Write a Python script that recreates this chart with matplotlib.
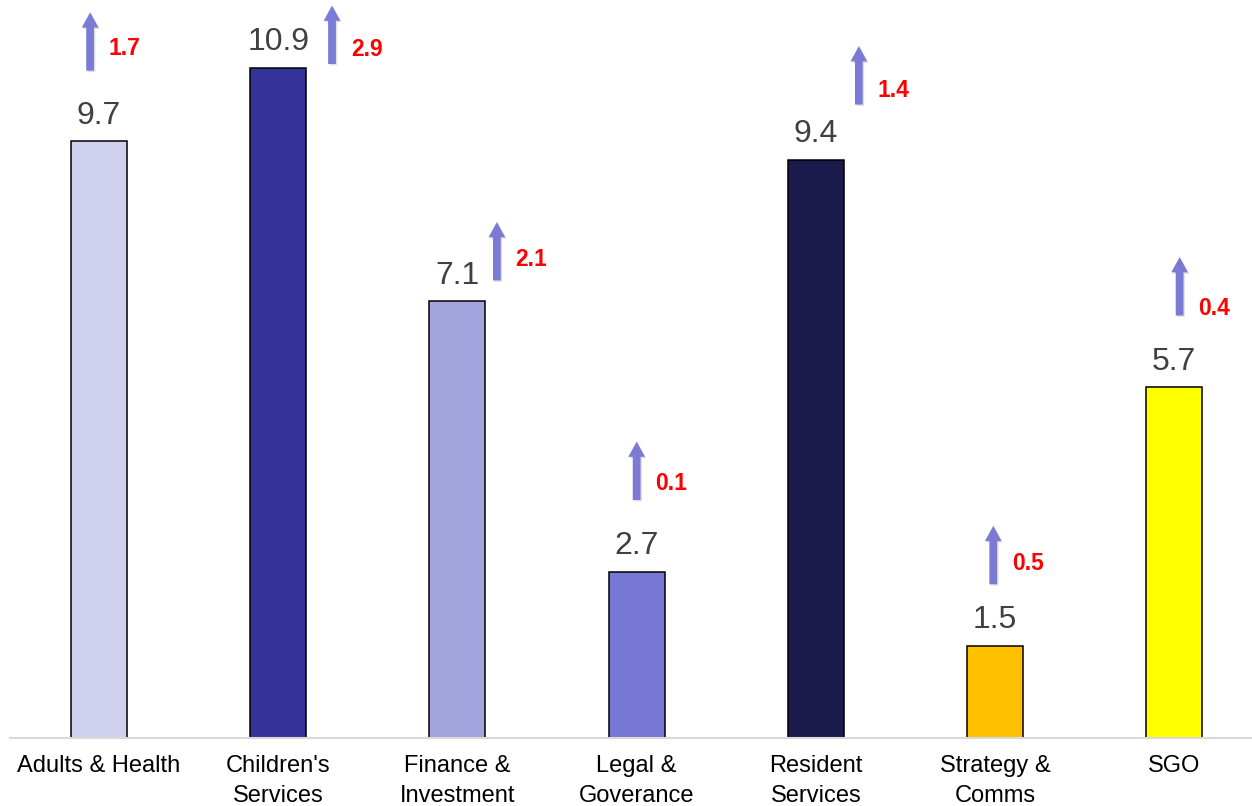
import matplotlib
matplotlib.use("Agg")
import matplotlib.pyplot as plt
import matplotlib.patheffects as pe

# Headcount by directorate and the increase since the previous period
categories = ["Adults & Health", "Children's\nServices", "Finance &\nInvestment",
              "Legal &\nGoverance", "Resident\nServices", "Strategy &\nComms", "SGO"]
values = [9.7, 10.9, 7.1, 2.7, 9.4, 1.5, 5.7]
increases = [1.7, 2.9, 2.1, 0.1, 1.4, 0.5, 0.4]

bar_colors = ["#d0d0ef", "#333399", "#a3a3de", "#7777d4", "#1a1a4d", "#ffc000", "#ffff00"]

# Placement of the increase arrows (x offset from bar centre, arrow base, label height)
arrow_dx = [-0.05, 0.30, 0.22, 0.0, 0.24, -0.01, 0.03]
arrow_base = [10.85, 10.96, 7.44, 3.87, 10.30, 2.50, 6.87]
label_y = [11.24, 11.22, 7.81, 4.17, 10.56, 2.86, 7.02]
arrow_len = 0.95

plt.rcParams["font.family"] = ["Liberation Sans", "DejaVu Sans"]

fig = plt.figure(figsize=(12.52, 8.06), dpi=100)
ax = fig.add_axes([10 / 1252, 68 / 806, 1242 / 1252, 738 / 806])

x = list(range(len(categories)))
ax.bar(x, values, width=0.313, color=bar_colors, edgecolor="black",
       linewidth=1.1, zorder=2)

for xi, v in zip(x, values):
    ax.annotate(f"{v:.1f}", xy=(xi, v), xytext=(0, 12.8), textcoords="offset points",
                ha="center", va="baseline", fontsize=23, color="#404040")

arrow_color = "#7b7bd6"
for xi, dx, base, inc, ly in zip(x, arrow_dx, arrow_base, increases, label_y):
    ax_x = xi + dx
    ar = ax.annotate("", xy=(ax_x, base + arrow_len), xytext=(ax_x, base),
                     arrowprops=dict(arrowstyle="simple,head_length=1.1,head_width=1.2,tail_width=0.56",
                                     mutation_scale=10, color=arrow_color, shrinkA=0, shrinkB=0,
                                     lw=0),
                     zorder=3)
    ar.arrow_patch.set_path_effects([pe.SimplePatchShadow(offset=(1.0, -1.0), alpha=0.18,
                                                          shadow_rgbFace="#555555"),
                                     pe.Normal()])
    ax.annotate(f"{inc:.1f}", xy=(ax_x, ly), xytext=(13.5, -6.0), textcoords="offset points",
                ha="left", va="baseline", fontsize=16.5, fontweight="bold", color="#ff0000")

ax.set_xlim(-0.497, 6.434)
ax.set_ylim(0, 12)
ax.set_xticks(x)
ax.set_xticklabels(categories, fontsize=17, color="black", linespacing=1.46)
ax.tick_params(axis="x", length=0, pad=12.5)
ax.set_yticks([])
for side in ["top", "right", "left"]:
    ax.spines[side].set_visible(False)
ax.spines["bottom"].set_color("#d9d9d9")
ax.spines["bottom"].set_linewidth(1.5)
ax.spines["bottom"].set_zorder(4)
ax.patch.set_alpha(0)

fig.savefig("out.png", dpi=100, facecolor="white")
